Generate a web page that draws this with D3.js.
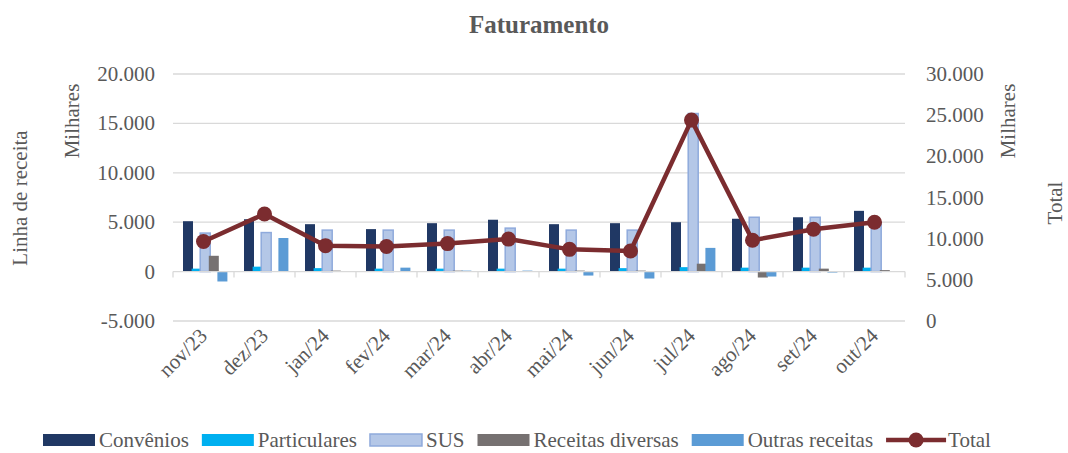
<!DOCTYPE html>
<html>
<head>
<meta charset="utf-8">
<script src="https://cdn.jsdelivr.net/npm/d3@7"></script>
<style>
  body { margin: 0; background: #fff; }
  svg text { font-family: "Liberation Serif", "Times New Roman", Times, serif; fill: #595959; }
</style>
</head>
<body>
<div id="chart"></div>
<script>
// Data (milhares de R$)
var meses = ["nov/23", "dez/23", "jan/24", "fev/24", "mar/24", "abr/24", "mai/24", "jun/24", "jul/24", "ago/24", "set/24", "out/24"];
var convenios = [5100, 5300, 4800, 4300, 4900, 5250, 4800, 4900, 5000, 5350, 5500, 6150];
var particulares = [300, 500, 350, 300, 300, 300, 300, 350, 450, 400, 400, 400];
var sus = [3900, 3950, 4200, 4200, 4200, 4400, 4200, 4200, 16000, 5500, 5500, 5000];
var receitasDiversas = [1600, 50, 100, 50, 100, 50, 100, 100, 800, -600, 300, 150];
var outrasReceitas = [-1000, 3400, 0, 400, 100, 100, -400, -700, 2400, -500, -100, 0];
var total = [9650, 13000, 9150, 9050, 9400, 9950, 8700, 8500, 24400, 9800, 11150, 12000];

var leftTicks = [-5000, 0, 5000, 10000, 15000, 20000];
var rightTicks = [0, 5000, 10000, 15000, 20000, 25000, 30000];

var series = [
  { name: "Convênios", values: convenios, fill: "#203864", stroke: "none" },
  { name: "Particulares", values: particulares, fill: "#00B0F0", stroke: "none" },
  { name: "SUS", values: sus, fill: "#B4C7E7", stroke: "#8FAADC" },
  { name: "Receitas diversas", values: receitasDiversas, fill: "#767171", stroke: "none" },
  { name: "Outras receitas", values: outrasReceitas, fill: "#5B9BD5", stroke: "none" }
];

var svgWidth = 1068;
var svgHeight = 453;
var plot = { left: 173, right: 905, top: 74, bottom: 321 };
var serif = "'Liberation Serif', 'Times New Roman', serif";

var svg = d3.select("#chart").append("svg")
  .attr("width", svgWidth)
  .attr("height", svgHeight)
  .attr("font-family", serif);

var fmt = function(v) {
  if (v === 0) return "0";
  return (v < 0 ? "-" : "") + d3.format(",")(Math.abs(v)).replace(/,/g, ".");
};

// scales
var x = d3.scaleBand().domain(meses).range([plot.left, plot.right]).padding(0);
var yLeft = d3.scaleLinear().domain([-5000, 20000]).range([plot.bottom, plot.top]);
var yRight = d3.scaleLinear().domain([0, 30000]).range([plot.bottom, plot.top]);
var barOffset = d3.scaleLinear().domain([0, 1]).range([10, 18.6]);
var barWidth = 10;

// title
svg.append("text")
  .attr("x", 539).attr("y", 33)
  .attr("text-anchor", "middle")
  .style("font-size", "25px").style("font-weight", "bold")
  .text("Faturamento");

// gridlines
svg.append("g").selectAll("line")
  .data(leftTicks.filter(d => d !== 0))
  .enter().append("line")
  .attr("x1", plot.left).attr("x2", plot.right)
  .attr("y1", d => yLeft(d)).attr("y2", d => yLeft(d))
  .attr("stroke", "#D9D9D9").attr("stroke-width", 1.3);

// left axis labels
svg.append("g").selectAll("text")
  .data(leftTicks).enter().append("text")
  .attr("x", 155).attr("y", d => yLeft(d) + 7)
  .attr("text-anchor", "end")
  .style("font-size", "21px")
  .text(fmt);

// right axis labels
svg.append("g").selectAll("text")
  .data(rightTicks).enter().append("text")
  .attr("x", 926).attr("y", d => yRight(d) + 7)
  .attr("text-anchor", "start")
  .style("font-size", "21px")
  .text(fmt);

// axis titles
svg.append("text")
  .attr("transform", "translate(79,121)rotate(-90)")
  .attr("text-anchor", "middle").style("font-size", "21px")
  .text("Milhares");
svg.append("text")
  .attr("transform", "translate(27,198)rotate(-90)")
  .attr("text-anchor", "middle").style("font-size", "21px")
  .text("Linha de receita");
svg.append("text")
  .attr("transform", "translate(1015,121)rotate(-90)")
  .attr("text-anchor", "middle").style("font-size", "21px")
  .text("Milhares");
svg.append("text")
  .attr("transform", "translate(1062,203)rotate(-90)")
  .attr("text-anchor", "middle").style("font-size", "21px")
  .text("Total");

// bars
series.forEach(function(s, i) {
  svg.append("g").selectAll("rect")
    .data(s.values).enter().append("rect")
    .attr("x", (d, j) => x(meses[j]) + barOffset(i))
    .attr("width", barWidth)
    .attr("y", d => yLeft(Math.max(0, d)))
    .attr("height", d => Math.abs(yLeft(d) - yLeft(0)))
    .attr("fill", s.fill)
    .attr("stroke", s.stroke)
    .attr("stroke-width", 1.5);
});

// category axis on zero
var zeroY = yLeft(0);
svg.append("line")
  .attr("x1", plot.left).attr("x2", plot.right)
  .attr("y1", zeroY).attr("y2", zeroY)
  .attr("stroke", "#D9D9D9").attr("stroke-width", 1.3);
svg.append("g").selectAll("line")
  .data(meses.concat(["end"])).enter().append("line")
  .attr("x1", (d, i) => plot.left + i * x.bandwidth())
  .attr("x2", (d, i) => plot.left + i * x.bandwidth())
  .attr("y1", zeroY).attr("y2", zeroY + 6)
  .attr("stroke", "#D9D9D9").attr("stroke-width", 1.3);

// x labels
svg.append("g").selectAll("text")
  .data(meses).enter().append("text")
  .attr("transform", d => `translate(${x(d) + x.bandwidth() / 2 + 5},${337})rotate(-45)`)
  .attr("text-anchor", "end")
  .style("font-size", "21px")
  .text(d => d);

// total line
var lineColor = "#7B2C2F";
var line = d3.line()
  .x((d, i) => x(meses[i]) + x.bandwidth() / 2)
  .y(d => yRight(d));
svg.append("path")
  .datum(total)
  .attr("d", line)
  .attr("fill", "none")
  .attr("stroke", lineColor)
  .attr("stroke-width", 4.5)
  .attr("stroke-linejoin", "round");
svg.append("g").selectAll("circle")
  .data(total).enter().append("circle")
  .attr("cx", (d, i) => x(meses[i]) + x.bandwidth() / 2)
  .attr("cy", d => yRight(d))
  .attr("r", 7.5)
  .attr("fill", lineColor);

// legend, laid out left to right
var legend = svg.append("g");
var lx = 43;
series.forEach(function(s) {
  legend.append("rect")
    .attr("x", lx).attr("y", 434)
    .attr("width", 52).attr("height", 12)
    .attr("fill", s.fill).attr("stroke", s.stroke).attr("stroke-width", 1.5);
  var t = legend.append("text")
    .attr("x", lx + 56).attr("y", 447)
    .style("font-size", "21px")
    .text(s.name);
  lx = lx + 56 + t.node().getComputedTextLength() + 13;
});
legend.append("line")
  .attr("x1", lx).attr("x2", lx + 60).attr("y1", 440).attr("y2", 440)
  .attr("stroke", lineColor).attr("stroke-width", 4.5);
legend.append("circle")
  .attr("cx", lx + 30).attr("cy", 440).attr("r", 7.5).attr("fill", lineColor);
legend.append("text")
  .attr("x", lx + 62).attr("y", 447)
  .style("font-size", "21px")
  .text("Total");
</script>
</body>
</html>
